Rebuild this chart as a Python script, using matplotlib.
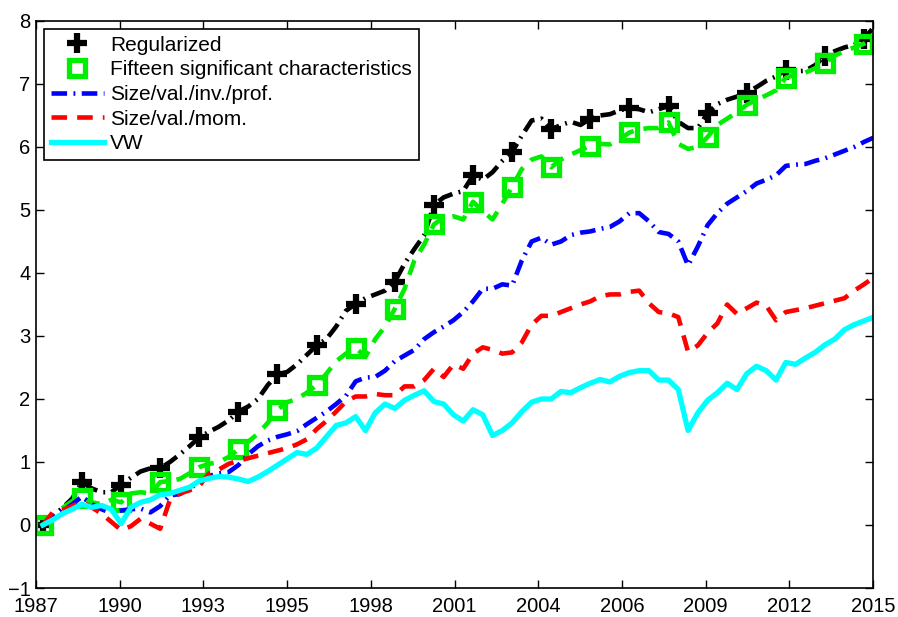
import numpy as np
import matplotlib
matplotlib.use("Agg")
import matplotlib.pyplot as plt
from matplotlib.lines import Line2D

plt.rcParams['font.family'] = ['Liberation Sans', 'DejaVu Sans']

# cumulative returns, sampled every ~4 months from spring 1987
start_year = 1987.23
step = 0.327

regularized = [0.0, 0.14, 0.27, 0.42, 0.68, 0.58, 0.52, 0.52, 0.64, 0.75,
               0.85, 0.9, 0.9, 1.0, 1.12, 1.25, 1.39, 1.48, 1.56, 1.66,
               1.80, 1.88, 2.0, 2.22, 2.39, 2.43, 2.55, 2.7, 2.85, 2.95,
               3.15, 3.4, 3.51, 3.6, 3.66, 3.72, 3.86, 4.15, 4.38, 4.6,
               5.08, 5.2, 5.26, 5.3, 5.55, 5.48, 5.6, 5.78, 5.92, 6.18,
               6.42, 6.45, 6.28, 6.35, 6.4, 6.35, 6.45, 6.5, 6.52, 6.58,
               6.62, 6.6, 6.55, 6.6, 6.65, 6.4, 6.3, 6.3, 6.54, 6.68,
               6.75, 6.8, 6.86, 6.95, 7.05, 7.12, 7.22, 7.2, 7.21, 7.3,
               7.44, 7.52, 7.58, 7.62, 7.72, 7.9]

fifteen = [0.0, 0.12, 0.27, 0.38, 0.43, 0.36, 0.33, 0.4, 0.36, 0.5,
           0.52, 0.5, 0.68, 0.7, 0.73, 0.82, 0.92, 0.97, 1.0, 1.08,
           1.2, 1.32, 1.45, 1.62, 1.83, 1.95, 2.0, 2.1, 2.22, 2.4,
           2.6, 2.72, 2.81, 2.67, 2.95, 3.15, 3.43, 3.75, 4.2, 4.45,
           4.77, 4.88, 4.9, 4.85, 5.13, 4.98, 4.85, 5.1, 5.37, 5.65,
           5.8, 5.85, 5.68, 5.8, 5.88, 5.95, 6.02, 6.05, 6.04, 6.12,
           6.23, 6.28, 6.3, 6.3, 6.39, 6.05, 5.97, 6.0, 6.16, 6.35,
           6.45, 6.55, 6.67, 6.75, 6.82, 6.9, 7.1, 7.15, 7.18, 7.25,
           7.33, 7.45, 7.52, 7.58, 7.64, 7.72]

size_val_inv_prof = [0.0, 0.12, 0.22, 0.33, 0.45, 0.33, 0.25, 0.19, 0.23, 0.25,
                     0.26, 0.2, 0.3, 0.47, 0.49, 0.58, 0.68, 0.78, 0.82, 0.84,
                     0.95, 1.12, 1.25, 1.34, 1.4, 1.44, 1.49, 1.6, 1.7, 1.8,
                     1.92, 2.05, 2.28, 2.34, 2.35, 2.45, 2.6, 2.69, 2.78, 2.95,
                     3.06, 3.15, 3.25, 3.38, 3.55, 3.75, 3.75, 3.82, 3.8, 4.2,
                     4.5, 4.56, 4.45, 4.5, 4.6, 4.64, 4.66, 4.7, 4.73, 4.82,
                     4.95, 4.95, 4.82, 4.65, 4.62, 4.5, 4.12, 4.42, 4.76, 4.95,
                     5.1, 5.2, 5.3, 5.42, 5.48, 5.55, 5.7, 5.72, 5.73, 5.78,
                     5.82, 5.88, 5.94, 6.0, 6.08, 6.15]

size_val_mom = [0.0, 0.2, 0.24, 0.3, 0.37, 0.28, 0.18, 0.05, -0.08, -0.02,
                0.1, 0.02, -0.06, 0.4, 0.5, 0.55, 0.62, 0.82, 0.88, 0.97,
                1.02, 1.06, 1.1, 1.14, 1.18, 1.22, 1.28, 1.36, 1.52, 1.65,
                1.8, 1.96, 2.04, 2.04, 2.08, 2.06, 2.06, 2.2, 2.2, 2.3,
                2.48, 2.35, 2.55, 2.48, 2.72, 2.82, 2.78, 2.72, 2.74, 2.9,
                3.18, 3.32, 3.32, 3.38, 3.44, 3.5, 3.55, 3.63, 3.66, 3.66,
                3.7, 3.72, 3.52, 3.38, 3.36, 3.3, 2.75, 2.85, 3.05, 3.2,
                3.5, 3.35, 3.44, 3.53, 3.48, 3.25, 3.38, 3.41, 3.44, 3.48,
                3.52, 3.56, 3.6, 3.72, 3.82, 3.93]

vw = [0.0, 0.08, 0.18, 0.25, 0.33, 0.28, 0.31, 0.25, 0.02, 0.28,
      0.36, 0.4, 0.48, 0.5, 0.55, 0.6, 0.7, 0.74, 0.77, 0.76,
      0.73, 0.69, 0.76, 0.85, 0.95, 1.05, 1.15, 1.12, 1.22, 1.4,
      1.58, 1.62, 1.72, 1.5, 1.78, 1.92, 1.85, 1.98, 2.06, 2.13,
      1.96, 1.92, 1.75, 1.65, 1.83, 1.75, 1.42, 1.5, 1.62, 1.8,
      1.95, 2.0, 2.0, 2.12, 2.1, 2.18, 2.25, 2.31, 2.27, 2.36,
      2.42, 2.45, 2.45, 2.3, 2.3, 2.15, 1.5, 1.78, 1.98, 2.1,
      2.25, 2.15, 2.4, 2.52, 2.45, 2.3, 2.58, 2.55, 2.65, 2.74,
      2.86, 2.95, 3.1, 3.18, 3.24, 3.3]

labels = ['Regularized', 'Fifteen significant characteristics',
          'Size/val./inv./prof.', 'Size/val./mom.', 'VW']
year_labels = ['1987', '1990', '1993', '1995', '1998', '2001',
               '2004', '2006', '2009', '2012', '2015']

dates = start_year + step * np.arange(len(vw))

green = '#00ee00'
dashdot = (0, (3.4, 1.4, 0.4, 1.4))
dashed = (0, (3.4, 2.2))

fig = plt.figure(figsize=(8.98, 6.17), dpi=100)
ax = fig.add_axes([0.0401, 0.0470, 0.9321, 0.9190])

ax.plot(dates, regularized, color='black', lw=3.3, ls=dashdot,
        marker='+', ms=14, mew=4.5, markevery=4)
ax.plot(dates, fifteen, color=green, lw=3.3, ls=dashed,
        marker='s', ms=11.5, mew=3.8, mfc='none', markevery=4)
ax.plot(dates, size_val_inv_prof, color='blue', lw=3.3, ls=dashdot)
ax.plot(dates, size_val_mom, color='red', lw=3.3, ls=dashed)
ax.plot(dates, vw, color='cyan', lw=3.8)

ax.set_xlim(1987, 2015)
ax.set_ylim(-1, 8)
ax.set_xticks(np.linspace(1987, 2015, len(year_labels)))
ax.set_xticklabels(year_labels)
ax.set_yticks(range(-1, 9))
ax.tick_params(direction='in', length=6, width=1, top=True, right=True,
               labelsize=14.5)
ax.tick_params(axis='x', pad=6.5)
ax.tick_params(axis='y', pad=4)
for sp in ax.spines.values():
    sp.set_linewidth(1.2)

handles = [
    Line2D([], [], ls='none', color='black', marker='+', ms=14, mew=4.5),
    Line2D([], [], ls='none', color=green, marker='s', ms=11.5, mew=3.8, mfc='none'),
    Line2D([], [], color='blue', lw=3.3, ls=dashdot),
    Line2D([], [], color='red', lw=3.3, ls=dashed),
    Line2D([], [], color='cyan', lw=3.8),
]
leg = ax.legend(handles, labels, loc='upper left', bbox_to_anchor=(0.0096, 0.986),
                borderaxespad=0, fontsize=15, fancybox=False, framealpha=1,
                edgecolor='black', labelspacing=0.27, handlelength=2.55,
                handletextpad=0.3, borderpad=0.33)
leg.get_frame().set_linewidth(1.2)

fig.savefig('out.png', dpi=100)
